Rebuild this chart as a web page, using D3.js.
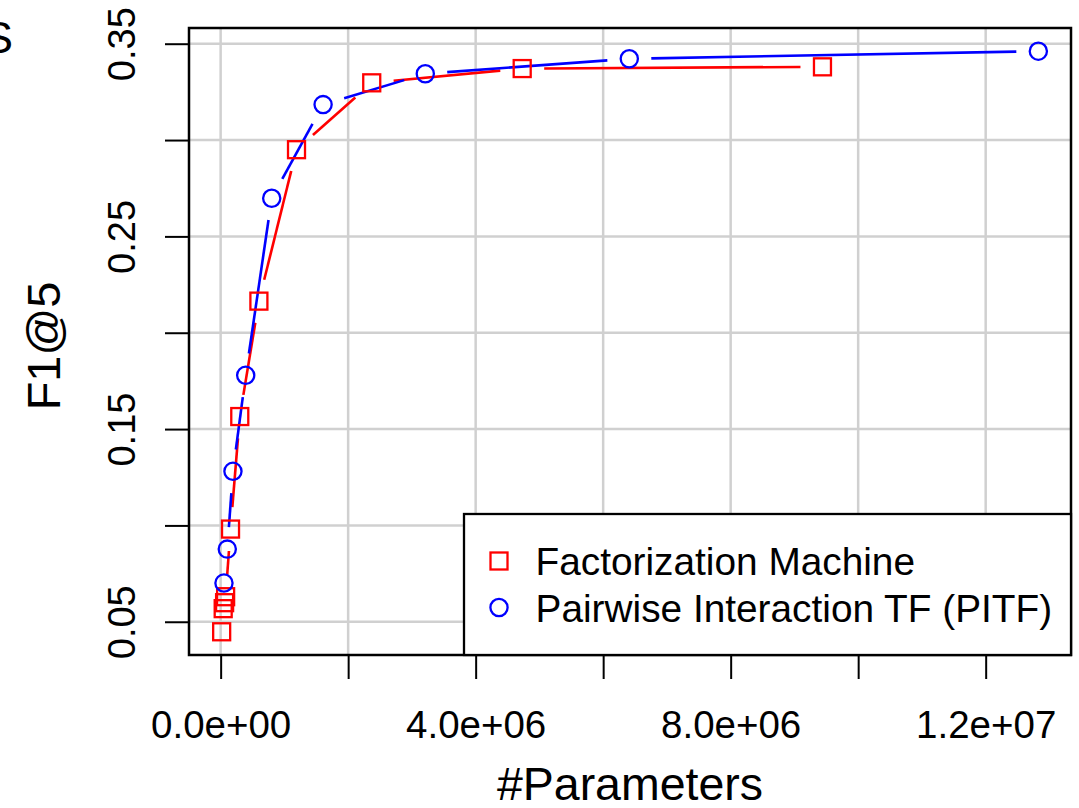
<!DOCTYPE html>
<html>
<head>
<meta charset="utf-8">
<script src="https://cdn.jsdelivr.net/npm/d3@7"></script>
<style>
  html, body { margin: 0; padding: 0; background: #fff; }
  svg { display: block; font-family: "Liberation Sans", Arial, sans-serif; }
</style>
</head>
<body>
<svg id="chart"></svg>
<script>
// F1@5 vs number of parameters, two models
const fmParams   = [1.6e4, 4.0e4, 6.2e4, 7.8e4, 1.55e5, 3.0e5, 6.0e5, 1.19e6, 2.37e6, 4.73e6, 9.44e6];
const fmF1       = [0.0448, 0.0568, 0.0599, 0.0630, 0.0981, 0.1565, 0.2164, 0.2950, 0.3297, 0.3371, 0.3380];
const pitfParams = [5.2e4, 1.04e5, 1.93e5, 3.93e5, 8.01e5, 1.607e6, 3.21e6, 6.41e6, 1.2826e7];
const pitfF1     = [0.0701, 0.0877, 0.1281, 0.1779, 0.2698, 0.3184, 0.3344, 0.3422, 0.3461];

const xTicks = [0, 2e6, 4e6, 6e6, 8e6, 1e7, 1.2e7];
const xTickLabels = ["0.0e+00", "", "4.0e+06", "", "8.0e+06", "", "1.2e+07"];
const yTicks = [0.05, 0.10, 0.15, 0.20, 0.25, 0.30, 0.35];
const yTickLabels = ["0.05", "", "0.15", "", "0.25", "", "0.35"];

const legendNames = ["Factorization Machine", "Pairwise Interaction TF (PITF)"];

const width = 1079, height = 808;
const box = {left: 189, top: 28, right: 1071, bottom: 655};

const svg = d3.select("#chart").attr("width", width).attr("height", height);
svg.append("rect").attr("width", width).attr("height", height).attr("fill", "#fff");

// R-like 4% extension of the data range
const allX = fmParams.concat(pitfParams), allY = fmF1.concat(pitfF1);
const [x0, x1] = d3.extent(allX), [y0, y1] = d3.extent(allY);
const xr = x1 - x0, yr = y1 - y0;

const x = d3.scaleLinear().domain([x0 - 0.04 * xr, x1 + 0.04 * xr]).range([box.left, box.right]);
const y = d3.scaleLinear().domain([y0 - 0.04 * yr, y1 + 0.04 * yr]).range([box.bottom, box.top]);

// grid
const grid = svg.append("g").attr("stroke", "#d0d0d0").attr("stroke-width", 2.5);
grid.selectAll(".gx").data(xTicks).join("line")
  .attr("x1", d => x(d)).attr("x2", d => x(d))
  .attr("y1", box.top).attr("y2", box.bottom);
grid.selectAll(".gy").data(yTicks).join("line")
  .attr("y1", d => y(d)).attr("y2", d => y(d))
  .attr("x1", box.left).attr("x2", box.right);

// lines with gaps around points (type = "b")
const gap = 22;
function gappedSegments(xs, ys) {
  const pts = xs.map((v, i) => [x(v), y(ys[i])]);
  const segs = [];
  for (let i = 0; i < pts.length - 1; i++) {
    const [ax, ay] = pts[i], [bx, by] = pts[i + 1];
    const dx = bx - ax, dy = by - ay, d = Math.hypot(dx, dy);
    if (d > 2 * gap) {
      const ux = dx / d, uy = dy / d;
      segs.push([ax + ux * gap, ay + uy * gap, bx - ux * gap, by - uy * gap]);
    }
  }
  return segs;
}

const series = [
  {xs: fmParams, ys: fmF1, color: "#ff0000", shape: "square"},
  {xs: pitfParams, ys: pitfF1, color: "#0000ff", shape: "circle"}
];

series.forEach(s => {
  svg.append("g")
    .attr("stroke", s.color).attr("stroke-width", 2.6).attr("stroke-linecap", "butt")
    .selectAll("line").data(gappedSegments(s.xs, s.ys)).join("line")
    .attr("x1", d => d[0]).attr("y1", d => d[1])
    .attr("x2", d => d[2]).attr("y2", d => d[3]);
});

function drawMarker(g, shape, cx, cy, color) {
  if (shape === "square") {
    g.append("rect").attr("x", cx - 8.5).attr("y", cy - 8.5)
      .attr("width", 17).attr("height", 17)
      .attr("fill", "none").attr("stroke", color).attr("stroke-width", 2.3);
  } else {
    g.append("circle").attr("cx", cx).attr("cy", cy).attr("r", 8.6)
      .attr("fill", "none").attr("stroke", color).attr("stroke-width", 2.3);
  }
}

series.forEach(s => {
  const g = svg.append("g");
  s.xs.forEach((v, i) => drawMarker(g, s.shape, x(v), y(s.ys[i]), s.color));
});

// axes
const xAxis = svg.append("g")
  .attr("transform", `translate(0,${box.bottom})`)
  .call(d3.axisBottom(x).tickValues(xTicks).tickSize(24)
    .tickFormat((d, i) => xTickLabels[i]));
xAxis.select(".domain").remove();
xAxis.selectAll(".tick line").attr("stroke", "#000").attr("stroke-width", 2);
xAxis.selectAll(".tick text")
  .attr("y", 83).attr("dy", null)
  .attr("font-size", 38.5).attr("font-family", "Liberation Sans, Arial, sans-serif")
  .attr("fill", "#000");

const yAxis = svg.append("g")
  .attr("transform", `translate(${box.left},0)`)
  .call(d3.axisLeft(y).tickValues(yTicks).tickSize(24)
    .tickFormat((d, i) => yTickLabels[i]));
yAxis.select(".domain").remove();
yAxis.selectAll(".tick line").attr("stroke", "#000").attr("stroke-width", 2);
yAxis.selectAll(".tick text")
  .attr("x", null).attr("dy", null)
  .attr("text-anchor", "middle")
  .attr("transform", "translate(-54,0) rotate(-90)")
  .attr("font-size", 38).attr("font-family", "Liberation Sans, Arial, sans-serif")
  .attr("fill", "#000");

// plot box
svg.append("rect")
  .attr("x", box.left).attr("y", box.top)
  .attr("width", box.right - box.left).attr("height", box.bottom - box.top)
  .attr("fill", "none").attr("stroke", "#000").attr("stroke-width", 2.5);

// axis titles
svg.append("text")
  .attr("x", (box.left + box.right) / 2).attr("y", 800)
  .attr("text-anchor", "middle").attr("font-size", 46.5)
  .text("#Parameters");
svg.append("text")
  .attr("transform", `translate(60,346) rotate(-90)`)
  .attr("text-anchor", "middle").attr("font-size", 47)
  .text("F1@5");

// stray glyph from neighbouring panel
svg.append("text")
  .attr("x", -17).attr("y", 53)
  .attr("font-size", 45)
  .text("S");

// legend (bottom right)
const legW = 607, legH = 141;
const leg = svg.append("g").attr("transform", `translate(${box.right - legW},${box.bottom - legH})`);
leg.append("rect").attr("width", legW).attr("height", legH)
  .attr("fill", "#fff").attr("stroke", "#000").attr("stroke-width", 2.3);
legendNames.forEach((name, i) => {
  const cy = 47 + i * 46.5;
  drawMarker(leg, series[i].shape, 35, cy, series[i].color);
  leg.append("text").attr("x", 71.5).attr("y", cy + 14)
    .attr("font-size", 38.8).text(name);
});
</script>
</body>
</html>
